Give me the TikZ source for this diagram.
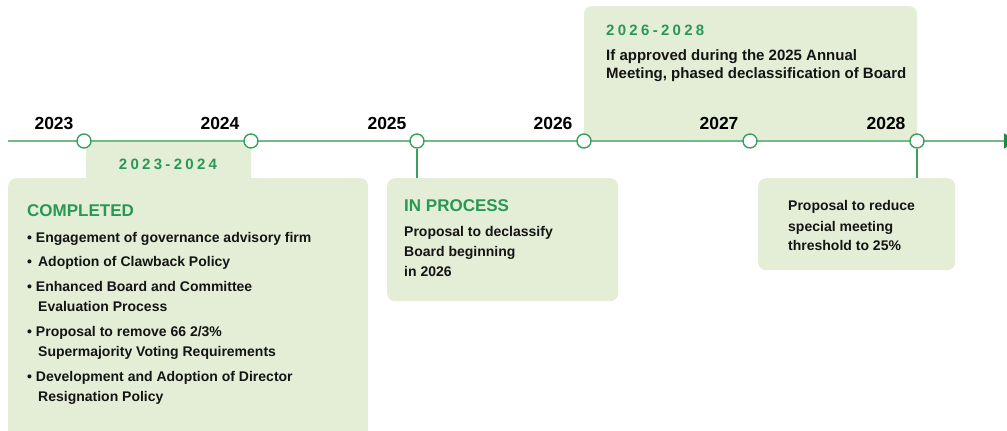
\documentclass[tikz,border=0pt]{standalone}
\usepackage{fontspec}
\setmainfont{Liberation Sans}
\usetikzlibrary{arrows.meta}
\definecolor{panelfill}{RGB}{228,238,215}
\definecolor{linegreen}{RGB}{112,188,132}
\definecolor{dotgreen}{RGB}{58,160,92}
\definecolor{headgreen}{RGB}{40,152,84}
\definecolor{tipgreen}{RGB}{24,140,66}
\definecolor{inkblack}{RGB}{20,20,20}
\tikzset{
  panel/.style={fill=panelfill, rounded corners=8pt, inner sep=0pt, anchor=north west},
  milestone/.style={circle, draw=dotgreen, line width=1.4pt, fill=white, minimum size=14pt, inner sep=0pt},
  yearlabel/.style={font=\fontsize{17.5}{20}\selectfont\bfseries, text=black, anchor=base, inner sep=0pt},
  spanlabel/.style={font=\fontsize{15}{18}\selectfont\bfseries\addfontfeature{LetterSpace=22}, text=headgreen, inner sep=0pt},
  heading/.style={font=\fontsize{17}{20}\selectfont\bfseries, text=headgreen, anchor=base west, inner sep=0pt},
  body/.style={font=\fontsize{14}{18}\selectfont\bfseries, text=inkblack, anchor=base west, inner sep=0pt},
  bodylarge/.style={body, font=\fontsize{15}{18}\selectfont\bfseries},
  stem/.style={draw=dotgreen, line width=1.2pt},
}
\begin{document}
\begin{tikzpicture}[x=1pt,y=-1pt]
\useasboundingbox (0,0) rectangle (1007,431);

% 2026-2028 panel standing on the timeline
\begin{scope}
  \clip (0,0) rectangle (1007,141);
  \fill[panelfill, rounded corners=8pt] (584,6) rectangle (917,170);
\end{scope}

% 2023-2024 tab hanging below the timeline
\begin{scope}
  \clip (0,141) rectangle (1007,431);
  \fill[panelfill, rounded corners=6pt] (86,120) rectangle (251,185);
\end{scope}

% panels below the timeline
\node[panel, minimum width=360pt, minimum height=262pt] (done) at (8,178) {};
\node[panel, minimum width=231pt, minimum height=123pt] (inproc) at (387,178) {};
\node[panel, minimum width=197pt, minimum height=92pt] (later) at (758,178) {};

% timeline (its arrow tip runs past the right edge)
\coordinate (tstart) at (8,141);
\coordinate (tend) at (1016,141);
\begin{scope}
  \clip (0,0) rectangle (1007,431);
  \draw[linegreen, line width=1.8pt, -{Triangle[length=12pt, width=15pt, color=tipgreen]}] (tstart) -- (tend);
\end{scope}

% milestones
\node[milestone] (c23) at (84,141) {};
\node[milestone] (c24) at (251,141) {};
\node[milestone] (c25) at (417,141) {};
\node[milestone] (c26) at (584,141) {};
\node[milestone] (c27) at (750,141) {};
\node[milestone] (c28) at (917,141) {};

% stems to the panels
\draw[stem] (c25.south) -- (c25 |- inproc.north);
\draw[stem] (c28.south) -- (c28 |- later.north);

% year labels
\node[yearlabel] (y23) at (54,129) {2023};
\node[yearlabel] (y24) at (220,129) {2024};
\node[yearlabel] (y25) at (387,129) {2025};
\node[yearlabel] (y26) at (553,129) {2026};
\node[yearlabel] (y27) at (719,129) {2027};
\node[yearlabel] (y28) at (886,129) {2028};

% 2023-2024 panel
\node[spanlabel, anchor=base] (s1) at (168,169.5) {2023-2024};
\node[heading] (h1) at (27,216) {COMPLETED};
\node[body] (b1) at (27,242) {• Engagement of governance advisory firm};
\node[body] (b2) at (27,266) {•\hspace{6pt}Adoption of Clawback Policy};
\node[body] (b3) at (27,291) {• Enhanced Board and Committee};
\node[body] (b3b) at (38,311) {Evaluation Process};
\node[body] (b4) at (27,336) {• Proposal to remove 66 2/3\%};
\node[body] (b4b) at (38,356) {Supermajority Voting Requirements};
\node[body] (b5) at (27,381) {• Development and Adoption of Director};
\node[body] (b5b) at (38,401) {Resignation Policy};

% in-process panel
\node[heading] (h2) at (404,211) {IN PROCESS};
\node[body] (p1) at (404,236) {Proposal to declassify};
\node[body] (p2) at (404,256) {Board beginning};
\node[body] (p3) at (404,276) {in 2026};

% 2026-2028 panel
\node[spanlabel, anchor=base west] (s2) at (606,35.5) {2026-2028};
\node[bodylarge] (q1) at (606,60.5) {If approved during the 2025 Annual};
\node[bodylarge] (q2) at (606,78.5) {Meeting, phased declassification of Board};

% special meeting panel
\node[body] (r1) at (788,210) {Proposal to reduce};
\node[body] (r2) at (788,231) {special meeting};
\node[body] (r3) at (788,250) {threshold to 25\%};
\end{tikzpicture}
\end{document}
